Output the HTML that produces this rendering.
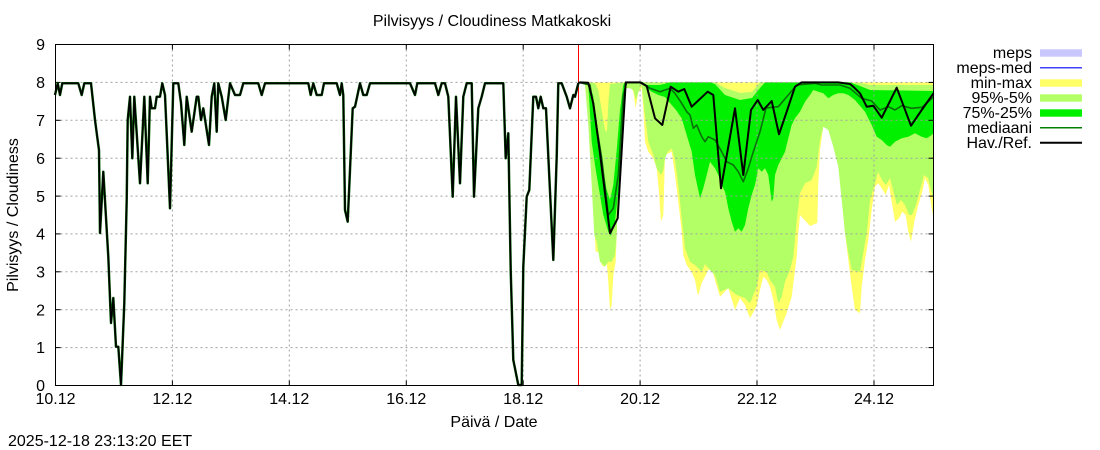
<!DOCTYPE html>
<html>
<head>
<meta charset="utf-8">
<style>
html,body{margin:0;padding:0;background:#fff;}
svg{display:block;}
text{font-family:"Liberation Sans",Arial,sans-serif;font-size:16px;fill:#000;}
</style>
</head>
<body>
<svg width="1100" height="450" viewBox="0 0 1100 450" xmlns="http://www.w3.org/2000/svg">
<rect x="0" y="0" width="1100" height="450" fill="#fff"/>

<!-- bands -->
<polygon fill="#ffff66" points="578.5,82.4 585,83.3 588.3,108.3 591.7,168.3 594.3,225 595.7,251.7 598.3,251.7 601.7,265 604.3,266.7 606.7,261.7 608.3,281.7 610,310 611.7,305 613.3,275 615.7,261.7 616.7,235 618.3,178.3 621,125 623.3,95 625,85 630,85 633.3,91.7 635.7,108.3 638.3,91.7 641.7,88.3 643.3,108.3 645,141.7 648.3,151.7 653.3,158.3 656.7,168.3 659,191.7 661,221.7 663.3,215 665,155 671.7,151.7 675,175 678.3,201.7 681.7,231.7 683.3,255 686.7,265 691.7,272 695,280 698,296 701.7,283 708.3,270 711.7,268 715,280 720,296.7 728.3,288 735,310 740,298 745,305 750,318.3 756.7,306 760,290 763.3,276.7 766.7,280 770,286.7 773.3,300 776.7,320 780,330 786.7,313 791.7,296.7 795,270 796.7,256.7 798.3,233 800,215 810,226 817.3,223 818.3,183 820,150 823.3,126.7 825,126 830,130 833.3,140 837.3,150 840,166.7 841.7,193 845,233 848.3,260 851.7,286.7 855,310 860,313.3 861.7,286.7 865,260 868.3,240 871.7,210 875,186.7 878.3,183.3 881.7,188.3 885.7,195 889,185 891.7,201.7 895,221.7 899,218.3 902.3,211.7 905.7,215 908.3,231.7 911,241.7 914.3,221.7 918.3,205 922.3,191.7 925,178.3 928.3,185 931.7,208.3 933.5,218 933.5,82.4 578.5,82.4"/>

<polygon fill="#b3ff66" points="578.5,82.4 582,83.3 585,85 588.3,125 591.7,185 594.3,235 596.7,241.7 600,261.7 605,266.7 608.3,261.7 611.7,261.7 615,255 616.7,235 618.3,185 620,141.7 623.3,95 625,88.3 630,88.3 633.3,90 636,100 639,90 641.7,85 645,115 648.3,141.7 653.3,155 656.7,168.3 659,172 661,175 663.3,170 665,158 668,151.7 671.7,148.3 675,160 678.3,185 681.7,218.3 685,248.3 690,261.7 695,265 701.7,271.7 705,264 710,270 715,275 720,291.7 728.3,288.3 736.7,295 745,298 750,303.3 756.7,286.7 760,270 766.7,271.7 770,280 775,286.7 778.3,303.3 781.7,296.7 785,281.7 790,270 793.3,256.7 796.7,220 800,193.3 805,183.3 811.7,180 816.7,166.7 820,140 823.3,126.7 828.3,130 833.3,146.7 838.3,166.7 841.7,200 845,233 848.3,253 851.7,270 860,271.7 863.3,253 866.7,233 870,200 875,183 878,172 882,180 886,185 890,178 893,190 897,205 901,200 905,205 909,215 912,215 916,205 920,190 924,175 928,178 931,190 933.5,200 933.5,85 870,85 860,83 760,82.4 752,92 740,93 725,88 715,82.4 625,82.4 610,84 608.5,100 607,132 605,130 601.7,110 598.3,90 595,83 578.5,82.4"/>

<polygon fill="#00f000" points="578.5,82.4 585,82.7 588.3,85 591.7,141.7 595,165 598.3,185 603.3,215 608.3,231.7 611,236 615,221.7 618.3,191.7 621.7,141.7 624.3,95 625.5,83 628.3,83.3 641.7,83.3 646.7,88.3 651.7,91.7 658.3,95 665,97 671.7,105 676,110 681.7,118.3 686.7,135 691.7,151.7 695,175 700,198.3 703.3,188.3 706.7,175 710,161.7 715,168.3 718.3,175 721.7,185 725,191.7 728.3,208.3 731.7,221.7 735,231.7 738.3,228.3 741.7,231.7 745,225 748.3,208.3 751.7,195 755,185 758.3,168.3 761.7,171.7 765,168.3 768.3,175 771.7,201.7 773.3,198.3 775,175 778.3,165 781.7,158.3 785,151.7 788.3,138.3 791.7,125 795,118.3 800,111.7 805,101.7 810,95 813.3,90 818.3,91.7 823.3,93.3 828.3,98.3 833.3,95 838.3,93.3 843.3,93.3 848.3,95 855,100 865,111.7 871.7,125 876.7,136.7 881.7,140 886.7,145 890,146.7 895,141.7 901.7,138.3 908.3,136.7 915,133.3 921.7,136.7 926.7,138.3 931.7,135 933.5,133.3 933.5,91 870,90 860,86 850,82.4 765,82.4 760,88 752,98 740,100 725,95 715,84 710,82.4 670,82.4 660,85 645,85 640,82.4 625,82.4 623.3,85 620,110 616.7,150 613.3,185 610,200 606.7,190 603.3,170 600,150 596.7,120 593,95 588,83 578.5,82.4"/>

<!-- grid -->
<g stroke="#a0a0a0" stroke-width="1" stroke-dasharray="2,3" fill="none">
<line x1="55.5" y1="82.4" x2="933.5" y2="82.4"/>
<line x1="55.5" y1="120.3" x2="933.5" y2="120.3"/>
<line x1="55.5" y1="158.2" x2="933.5" y2="158.2"/>
<line x1="55.5" y1="196.1" x2="933.5" y2="196.1"/>
<line x1="55.5" y1="233.9" x2="933.5" y2="233.9"/>
<line x1="55.5" y1="271.8" x2="933.5" y2="271.8"/>
<line x1="55.5" y1="309.7" x2="933.5" y2="309.7"/>
<line x1="55.5" y1="347.6" x2="933.5" y2="347.6"/>
<line x1="172.4" y1="44.5" x2="172.4" y2="385.5"/>
<line x1="289.3" y1="44.5" x2="289.3" y2="385.5"/>
<line x1="406.3" y1="44.5" x2="406.3" y2="385.5"/>
<line x1="523.2" y1="44.5" x2="523.2" y2="385.5"/>
<line x1="640.1" y1="44.5" x2="640.1" y2="385.5"/>
<line x1="757" y1="44.5" x2="757" y2="385.5"/>
<line x1="874" y1="44.5" x2="874" y2="385.5"/>
</g>

<!-- ticks -->
<g stroke="#000" stroke-width="1">
<line x1="55.5" y1="82.4" x2="60.5" y2="82.4"/><line x1="928.5" y1="82.4" x2="933.5" y2="82.4"/>
<line x1="55.5" y1="120.3" x2="60.5" y2="120.3"/><line x1="928.5" y1="120.3" x2="933.5" y2="120.3"/>
<line x1="55.5" y1="158.2" x2="60.5" y2="158.2"/><line x1="928.5" y1="158.2" x2="933.5" y2="158.2"/>
<line x1="55.5" y1="196.1" x2="60.5" y2="196.1"/><line x1="928.5" y1="196.1" x2="933.5" y2="196.1"/>
<line x1="55.5" y1="233.9" x2="60.5" y2="233.9"/><line x1="928.5" y1="233.9" x2="933.5" y2="233.9"/>
<line x1="55.5" y1="271.8" x2="60.5" y2="271.8"/><line x1="928.5" y1="271.8" x2="933.5" y2="271.8"/>
<line x1="55.5" y1="309.7" x2="60.5" y2="309.7"/><line x1="928.5" y1="309.7" x2="933.5" y2="309.7"/>
<line x1="55.5" y1="347.6" x2="60.5" y2="347.6"/><line x1="928.5" y1="347.6" x2="933.5" y2="347.6"/>
<line x1="172.4" y1="380.5" x2="172.4" y2="385.5"/><line x1="172.4" y1="44.5" x2="172.4" y2="49.5"/>
<line x1="289.3" y1="380.5" x2="289.3" y2="385.5"/><line x1="289.3" y1="44.5" x2="289.3" y2="49.5"/>
<line x1="406.3" y1="380.5" x2="406.3" y2="385.5"/><line x1="406.3" y1="44.5" x2="406.3" y2="49.5"/>
<line x1="523.2" y1="380.5" x2="523.2" y2="385.5"/><line x1="523.2" y1="44.5" x2="523.2" y2="49.5"/>
<line x1="640.1" y1="380.5" x2="640.1" y2="385.5"/><line x1="640.1" y1="44.5" x2="640.1" y2="49.5"/>
<line x1="757" y1="380.5" x2="757" y2="385.5"/><line x1="757" y1="44.5" x2="757" y2="49.5"/>
<line x1="874" y1="380.5" x2="874" y2="385.5"/><line x1="874" y1="44.5" x2="874" y2="49.5"/>
</g>

<!-- red now line -->
<line x1="578.5" y1="44.5" x2="578.5" y2="385.5" stroke="#ff0000" stroke-width="1"/>

<!-- historical -->
<polyline fill="none" stroke="#006000" stroke-width="2.5" stroke-linejoin="round" points="55,95 57.7,83.3 60,95 62.3,83.3 78.3,83.3 81.7,95 84.3,83.3 91,83.3 95,120 98.3,145 99,150 100,233 103.3,171.7 108.3,256.7 111,323 113.3,298 116,346.7 118.3,346.7 121,385 124.3,303 126.7,200 127.7,120 130,96.7 132.3,158.3 134.3,96.7 140,183.3 144.3,96.7 147.7,183.3 150,96.7 151.7,108.3 155,108.3 156.7,96.7 160,96.7 162.3,83.3 165,95 170,208.3 173.3,83.3 178.3,83.3 181,103 184.3,145 186.7,96.7 191.7,131.7 196.7,96.7 198.3,96.7 201,120 203.3,108.3 209,145 211.7,96.7 214.3,83.3 216.7,131.7 218.3,83.3 221.7,96.7 225.7,120 230,83.3 235,95 240,95 243.3,83.3 258.3,83.3 261.7,95 265,83.3 308.3,83.3 310.7,95 313.3,83.3 316.7,95 321.7,95 324,83.3 336.7,83.3 340,95 341.7,83.3 343.3,95 345,210 347.7,221.7 350,170 352.7,108.3 355,106.7 360,83.3 363.3,95 366.7,95 370,83.3 410,83.3 415,95 417.3,83.3 435,83.3 438.3,95 441.7,83.3 445,83.3 448.3,96.7 452.7,196.7 456,96.7 460,183.3 463.3,96.7 466.7,83.3 471.7,83.3 474,196.7 478.3,108.3 481.7,96.7 485,83.3 503.3,83.3 505.7,158.3 508.3,133.3 510.7,270 513.3,360 518.3,385 521.7,385 523.3,266.7 526.7,196.7 529.3,190 533.3,96.7 536,96.7 538.3,108.3 540.7,96.7 543.3,108.3 546,108.3 553.3,260 556.7,156.7 558.3,83.3 561.7,83.3 566.7,96.7 570,108.3 573.3,95 575,96.7 578.3,83.3"/>
<polyline fill="none" stroke="#000" stroke-width="1.6" stroke-linejoin="round" points="55,95 57.7,83.3 60,95 62.3,83.3 78.3,83.3 81.7,95 84.3,83.3 91,83.3 95,120 98.3,145 99,150 100,233 103.3,171.7 108.3,256.7 111,323 113.3,298 116,346.7 118.3,346.7 121,385 124.3,303 126.7,200 127.7,120 130,96.7 132.3,158.3 134.3,96.7 140,183.3 144.3,96.7 147.7,183.3 150,96.7 151.7,108.3 155,108.3 156.7,96.7 160,96.7 162.3,83.3 165,95 170,208.3 173.3,83.3 178.3,83.3 181,103 184.3,145 186.7,96.7 191.7,131.7 196.7,96.7 198.3,96.7 201,120 203.3,108.3 209,145 211.7,96.7 214.3,83.3 216.7,131.7 218.3,83.3 221.7,96.7 225.7,120 230,83.3 235,95 240,95 243.3,83.3 258.3,83.3 261.7,95 265,83.3 308.3,83.3 310.7,95 313.3,83.3 316.7,95 321.7,95 324,83.3 336.7,83.3 340,95 341.7,83.3 343.3,95 345,210 347.7,221.7 350,170 352.7,108.3 355,106.7 360,83.3 363.3,95 366.7,95 370,83.3 410,83.3 415,95 417.3,83.3 435,83.3 438.3,95 441.7,83.3 445,83.3 448.3,96.7 452.7,196.7 456,96.7 460,183.3 463.3,96.7 466.7,83.3 471.7,83.3 474,196.7 478.3,108.3 481.7,96.7 485,83.3 503.3,83.3 505.7,158.3 508.3,133.3 510.7,270 513.3,360 518.3,385 521.7,385 523.3,266.7 526.7,196.7 529.3,190 533.3,96.7 536,96.7 538.3,108.3 540.7,96.7 543.3,108.3 546,108.3 553.3,260 556.7,156.7 558.3,83.3 561.7,83.3 566.7,96.7 570,108.3 573.3,95 575,96.7 578.3,83.3"/>

<!-- forecast median -->
<polyline fill="none" stroke="#0a700a" stroke-width="1.6" stroke-linejoin="round" points="578.3,82.4 590,85 601.7,158.3 608.3,215 613.3,208.3 618.3,175 623.3,95 626.7,82.4 641.7,82.4 650,88.3 660,91.7 670,88.3 675,93.3 681.7,103.3 686.7,111.7 690,115 693.3,128.3 696.7,125 701.7,136.7 705,141.7 708.3,136.7 715,140 721.7,151.7 726.7,161.7 733.3,165 738.3,171.7 743.3,181.7 748.3,168.3 753.3,151.7 760,131.7 766,108 778.3,106.7 788.3,95 796.7,85 815,83.3 821.7,85 840,85 850,88.3 861.7,98.3 871.7,101 880,110 888.3,106.7 895,110 901.7,105.7 911.7,108.3 921.7,107.3 928.3,101.7 933.5,97"/>

<!-- forecast Hav./Ref. -->
<polyline fill="none" stroke="#000" stroke-width="2" stroke-linejoin="round" points="578.3,83.3 580,82.4 588.3,82.7 593.3,103.3 600,153.3 610,233.3 617.7,218.3 625.7,82.4 640,82.4 646.7,86 655,118.3 662.3,125 670.7,86.7 678.3,91.7 684.3,89 691.7,106.7 707.7,91.7 713.3,95 721,188.3 735,108.3 743.3,175 751,110 757.7,100 763.3,110 771.7,101 779,134.3 786.7,111.7 795,86.7 801.7,82.4 838.3,82.4 850,84 853.3,86.7 860,93.3 866.7,106.7 873.3,105.7 881.7,117.7 896.7,87.7 911,125.7 921.7,110 933.5,93.3"/>

<!-- border -->
<rect x="55.5" y="44.5" width="878" height="341" fill="none" stroke="#000" stroke-width="1"/>

<!-- y tick labels -->
<g text-anchor="end">
<text x="45" y="50">9</text>
<text x="45" y="88">8</text>
<text x="45" y="126">7</text>
<text x="45" y="164">6</text>
<text x="45" y="202">5</text>
<text x="45" y="239.5">4</text>
<text x="45" y="277.5">3</text>
<text x="45" y="315.5">2</text>
<text x="45" y="353">1</text>
<text x="45" y="391">0</text>
</g>

<!-- x tick labels -->
<g text-anchor="middle">
<text x="55.5" y="404">10.12</text>
<text x="172.4" y="404">12.12</text>
<text x="289.3" y="404">14.12</text>
<text x="406.3" y="404">16.12</text>
<text x="523.2" y="404">18.12</text>
<text x="640.1" y="404">20.12</text>
<text x="757" y="404">22.12</text>
<text x="874" y="404">24.12</text>
</g>

<!-- titles -->
<text x="492" y="26" text-anchor="middle">Pilvisyys / Cloudiness Matkakoski</text>
<text x="494" y="427" text-anchor="middle">Päivä / Date</text>
<text x="18" y="215" text-anchor="middle" transform="rotate(-90 18 215)">Pilvisyys / Cloudiness</text>
<text x="8" y="446">2025-12-18 23:13:20 EET</text>

<!-- legend -->
<g text-anchor="end">
<text x="1032" y="58">meps</text>
<text x="1032" y="73">meps-med</text>
<text x="1032" y="88">min-max</text>
<text x="1032" y="103">95%-5%</text>
<text x="1032" y="118">75%-25%</text>
<text x="1032" y="133">mediaani</text>
<text x="1032" y="148">Hav./Ref.</text>
</g>
<rect x="1040" y="49.3" width="42" height="7.4" fill="#c8c8ff"/>
<line x1="1040" y1="67.7" x2="1082" y2="67.7" stroke="#4040ff" stroke-width="1.5"/>
<rect x="1040" y="79.3" width="42" height="7.4" fill="#ffff66"/>
<rect x="1040" y="94.3" width="42" height="7.4" fill="#b3ff66"/>
<rect x="1040" y="109.3" width="42" height="7.4" fill="#00f000"/>
<line x1="1040" y1="127.7" x2="1082" y2="127.7" stroke="#008000" stroke-width="1.5"/>
<line x1="1040" y1="142.7" x2="1082" y2="142.7" stroke="#000" stroke-width="2"/>
</svg>
</body>
</html>
